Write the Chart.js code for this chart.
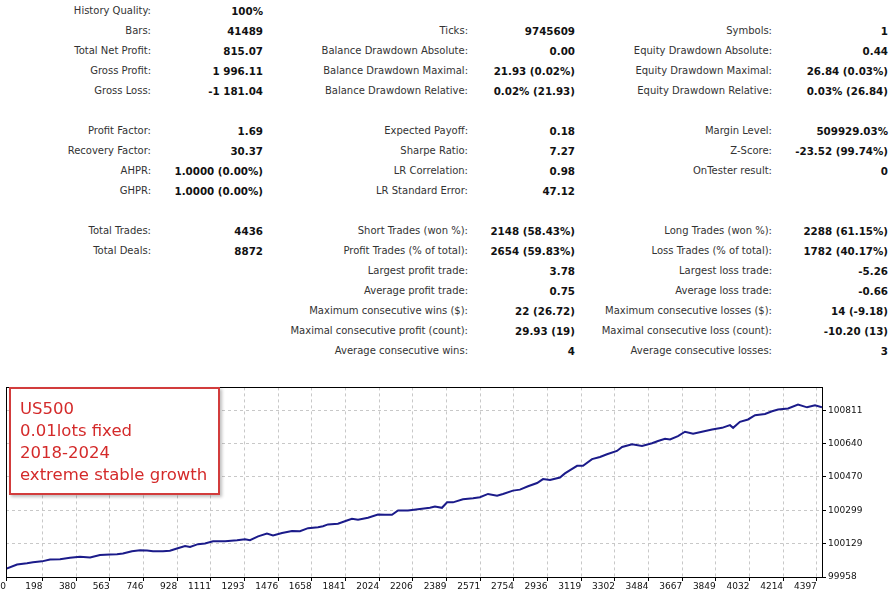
<!DOCTYPE html>
<html>
<head>
<meta charset="utf-8">
<script src="https://cdn.jsdelivr.net/npm/chart.js@4.4.1/dist/chart.umd.min.js"></script>
<style>
  html, body { margin: 0; padding: 0; background: #fff; }
  #page { position: relative; width: 896px; height: 600px; overflow: hidden; font-family: "DejaVu Sans", sans-serif; }
  .cell { position: absolute; white-space: nowrap; font-size: 10px; line-height: 14px; text-align: right; }
  .lbl { color: #333; }
  .val { color: #111; font-weight: bold; font-size: 10.3px; }
  #chartWrap { position: absolute; left: 0; top: 380px; width: 896px; height: 220px; }
  #note {
    position: absolute; left: 9px; top: 387px; width: 198px; height: 95px;
    border: 2px solid #d23c3c; background: #fff; color: #d42a2a;
    padding: 9px 0 0 9px; font-size: 16.5px; line-height: 22px;
    box-shadow: 2px 2px 3px rgba(0,0,0,0.25);
  }
</style>
</head>
<body>
<div id="page">
  <div id="stats"></div>
  <div id="chartWrap"><canvas id="myChart" width="896" height="220"></canvas></div>
  <div id="note"></div>
</div>
<script>
// report table, one row per line: [label, value] x 3 columns, null = empty row
const statsRows = [
  ['History Quality:', '100%', '', '', '', ''],
  ['Bars:', '41489', 'Ticks:', '9745609', 'Symbols:', '1'],
  ['Total Net Profit:', '815.07', 'Balance Drawdown Absolute:', '0.00', 'Equity Drawdown Absolute:', '0.44'],
  ['Gross Profit:', '1 996.11', 'Balance Drawdown Maximal:', '21.93 (0.02%)', 'Equity Drawdown Maximal:', '26.84 (0.03%)'],
  ['Gross Loss:', '-1 181.04', 'Balance Drawdown Relative:', '0.02% (21.93)', 'Equity Drawdown Relative:', '0.03% (26.84)'],
  null,
  ['Profit Factor:', '1.69', 'Expected Payoff:', '0.18', 'Margin Level:', '509929.03%'],
  ['Recovery Factor:', '30.37', 'Sharpe Ratio:', '7.27', 'Z-Score:', '-23.52 (99.74%)'],
  ['AHPR:', '1.0000 (0.00%)', 'LR Correlation:', '0.98', 'OnTester result:', '0'],
  ['GHPR:', '1.0000 (0.00%)', 'LR Standard Error:', '47.12', '', ''],
  null,
  ['Total Trades:', '4436', 'Short Trades (won %):', '2148 (58.43%)', 'Long Trades (won %):', '2288 (61.15%)'],
  ['Total Deals:', '8872', 'Profit Trades (% of total):', '2654 (59.83%)', 'Loss Trades (% of total):', '1782 (40.17%)'],
  ['', '', 'Largest profit trade:', '3.78', 'Largest loss trade:', '-5.26'],
  ['', '', 'Average profit trade:', '0.75', 'Average loss trade:', '-0.66'],
  ['', '', 'Maximum consecutive wins ($):', '22 (26.72)', 'Maximum consecutive losses ($):', '14 (-9.18)'],
  ['', '', 'Maximal consecutive profit (count):', '29.93 (19)', 'Maximal consecutive loss (count):', '-10.20 (13)'],
  ['', '', 'Average consecutive wins:', '4', 'Average consecutive losses:', '3']
];

const noteLines = ['US500', '0.01lots fixed', '2018-2024', 'extreme stable growth'];

// balance curve (trade number / balance)
const trades = [0, 60, 114, 146, 195, 239, 293, 347, 401, 456, 510, 564, 602, 634, 683, 727, 765, 797, 851, 889,
  927, 971, 998, 1041, 1079, 1123, 1188, 1253, 1296, 1323, 1367, 1415, 1448, 1497, 1551, 1594, 1638, 1692, 1719, 1746,
  1800, 1849, 1876, 1909, 1963, 2017, 2055, 2093, 2126, 2180, 2234, 2299, 2326, 2364, 2392, 2424, 2478, 2533, 2570, 2614,
  2663, 2695, 2749, 2787, 2831, 2880, 2912, 2950, 3004, 3031, 3059, 3097, 3129, 3178, 3221, 3259, 3313, 3341, 3395, 3449,
  3503, 3536, 3574, 3601, 3644, 3682, 3726, 3774, 3829, 3883, 3926, 3943, 3980, 4024, 4062, 4116, 4154, 4187, 4241, 4295,
  4344, 4387, 4425];
const balance = [100000, 100022, 100028, 100033, 100038, 100048, 100049, 100056, 100061, 100058, 100070, 100073, 100075, 100078, 100090, 100095, 100094, 100090, 100090, 100092,
  100104, 100117, 100112, 100126, 100129, 100141, 100141, 100146, 100151, 100146, 100166, 100180, 100171, 100183, 100193, 100192, 100208, 100213, 100218, 100227,
  100231, 100247, 100256, 100251, 100261, 100278, 100276, 100276, 100298, 100298, 100305, 100312, 100318, 100312, 100340, 100340, 100356, 100361, 100366, 100383,
  100374, 100383, 100400, 100405, 100422, 100439, 100459, 100454, 100467, 100488, 100505, 100527, 100527, 100561, 100572, 100586, 100603, 100623, 100637, 100628,
  100642, 100654, 100665, 100662, 100679, 100701, 100691, 100701, 100713, 100721, 100735, 100721, 100752, 100764, 100786, 100792, 100806, 100815, 100820, 100840,
  100826, 100836, 100826];

const xTicks = [0, 198, 380, 563, 746, 928, 1111, 1293, 1476, 1658, 1841, 2024, 2206, 2389, 2571, 2754, 2936, 3119, 3302, 3484, 3667, 3849, 4032, 4214, 4397];
const yTicks = [99958, 100129, 100299, 100470, 100640, 100811];

// table
const colEdges = [151, 263, 468, 575, 772, 888];
const stats = document.getElementById('stats');
statsRows.forEach((row, i) => {
  if (!row) return;
  const top = 11 + i * 20 - 7;
  row.forEach((txt, j) => {
    if (!txt) return;
    const d = document.createElement('div');
    d.className = 'cell ' + (j % 2 ? 'val' : 'lbl');
    d.style.top = top + 'px';
    d.style.right = (896 - colEdges[j]) + 'px';
    d.textContent = txt;
    stats.appendChild(d);
  });
});

document.getElementById('note').innerHTML = noteLines.map(t => '<div>' + t + '</div>').join('');

// black frame round the plot
const framePlugin = {
  id: 'frame',
  afterDraw(chart) {
    const a = chart.chartArea;
    const c = chart.ctx;
    c.save();
    c.strokeStyle = '#000';
    c.lineWidth = 1;
    c.strokeRect(Math.round(a.left) + 0.5, Math.round(a.top) + 0.5, Math.round(a.right - a.left), Math.round(a.bottom - a.top));
    c.restore();
  }
};

const ctx = document.getElementById('myChart').getContext('2d');
const myChart = new Chart(ctx, {
  type: 'line',
  data: {
    datasets: [{
      data: trades.map((t, i) => ({ x: t, y: balance[i] })),
      borderColor: '#1b1b8a',
      borderWidth: 2,
      pointRadius: 0,
      tension: 0,
      fill: false
    }]
  },
  options: {
    responsive: false,
    animation: false,
    layout: { padding: { left: 6, top: 6, right: 0, bottom: 0 } },
    plugins: { legend: { display: false }, tooltip: { enabled: false } },
    scales: {
      x: {
        type: 'linear',
        min: 0,
        max: 4425,
        afterBuildTicks: s => { s.ticks = xTicks.map(v => ({ value: v })); },
        afterFit: s => { s.height = 23; },
        grid: { color: '#c8c8c8', tickColor: '#000', tickLength: 4 },
        border: { color: '#000', dash: [3, 3] },
        ticks: {
          autoSkip: false, maxRotation: 0, align: 'end', padding: 0,
          color: '#111', font: { family: 'DejaVu Sans', size: 9 },
          callback: v => String(v)
        }
      },
      y: {
        position: 'right',
        min: 99958,
        max: 100928,
        afterBuildTicks: s => { s.ticks = yTicks.map(v => ({ value: v })); },
        afterFit: s => { s.width = 74; },
        grid: { color: '#c8c8c8', tickColor: '#000', tickLength: 4 },
        border: { color: '#000', dash: [3, 3] },
        ticks: {
          padding: 2, color: '#111', font: { family: 'DejaVu Sans', size: 9 },
          callback: v => String(v)
        }
      }
    }
  },
  plugins: [framePlugin]
});
</script>
</body>
</html>
